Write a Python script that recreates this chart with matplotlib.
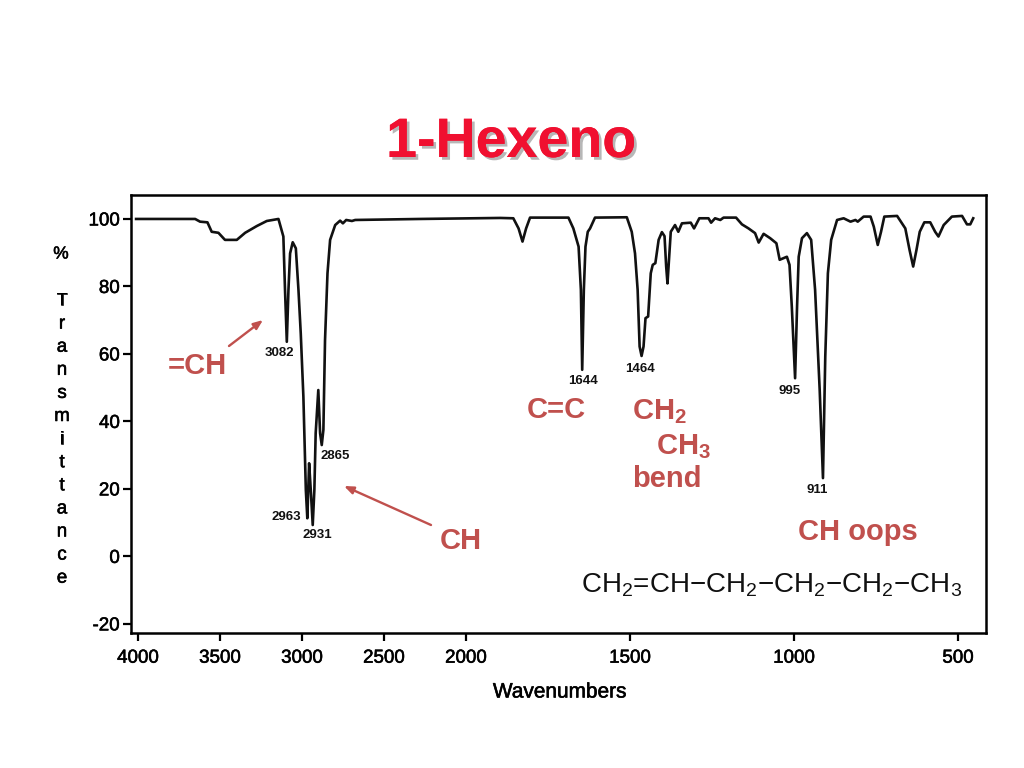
import numpy as np
import matplotlib
matplotlib.use("Agg")
import matplotlib.pyplot as plt
import matplotlib.patheffects as pe

plt.rcParams['font.family'] = ['Liberation Sans', 'DejaVu Sans']
plt.rcParams['mathtext.fontset'] = 'custom'
plt.rcParams['mathtext.rm'] = 'Liberation Sans'
plt.rcParams['mathtext.bf'] = 'Liberation Sans:bold'
plt.rcParams['mathtext.default'] = 'regular'

wavenumbers = [4012, 3652, 3622, 3577, 3551, 3510, 3470, 3398, 3347, 3276, 3215, 3144, 3114, 3104, 3093, 3083,
               3073, 3057, 3038, 3022, 3008, 2992, 2977, 2968, 2957, 2947, 2935, 2925, 2917, 2901, 2890, 2880,
               2870, 2860, 2845, 2829, 2798, 2768, 2751, 2731, 2696, 2676, 2280, 1896, 1856, 1840, 1828, 1817,
               1805, 1688, 1673, 1657, 1650, 1646, 1641, 1636, 1629, 1622, 1607, 1510, 1495, 1485, 1477, 1471,
               1465, 1459, 1453, 1445, 1437, 1431, 1423, 1413, 1403, 1395, 1390, 1386, 1382, 1376, 1363, 1353,
               1342, 1315, 1305, 1289, 1261, 1253, 1241, 1225, 1215, 1177, 1159, 1139, 1119, 1108, 1093, 1073,
               1054, 1044, 1022, 1014, 1007, 997, 991, 986, 976, 961, 948, 936, 922, 912, 905, 897,
               887, 869, 849, 828, 813, 806, 788, 767, 757, 745, 735, 725, 686, 661, 648, 637,
               627, 617, 603, 585, 570, 560, 544, 519, 488, 473, 463, 454]
transmittance = [100, 100, 99.2, 99, 96.2, 95.9, 93.8, 93.8, 95.9, 97.9, 99.4, 100, 94.8, 79, 63.6, 79,
                 89.8, 93.1, 91.3, 79, 66.1, 47.4, 19.7, 11.3, 27.6, 19.7, 9.3, 19.7, 36.5, 49.3, 36.5, 33,
                 37.5, 64.1, 83.9, 93.8, 98.2, 99.5, 98.7, 99.7, 99.4, 99.7, 100, 100.3, 100.2, 97.2, 93.3, 97.2,
                 100.4, 100.4, 97.2, 91.8, 79, 55.3, 79, 91.8, 96.2, 97.2, 100.4, 100.5, 96.2, 89.8, 79, 62.2,
                 59.4, 62.2, 70.6, 71.1, 83.9, 86.4, 86.9, 93.8, 96.1, 94.9, 85.9, 80.9, 86.9, 96.2, 98.2, 96.2,
                 98.7, 98.9, 97.2, 100.2, 100.2, 98.9, 100.2, 99.7, 100.4, 100.4, 98.4, 97.2, 95.8, 93, 95.6, 94.3,
                 92.8, 87.9, 88.8, 86.4, 74, 52.8, 74, 88.8, 94.3, 95.8, 93.8, 79, 49.3, 23.2, 59.2, 83.9,
                 93.8, 99.7, 100.2, 99.2, 99.7, 99.2, 100.7, 100.7, 97.7, 92.3, 96.2, 100.7, 100.9, 97.2, 90.8, 85.9,
                 90.8, 96.2, 99, 99, 96.2, 94.8, 98.2, 100.7, 100.9, 98.4, 98.4, 100.2]
x_ticks = [4000, 3500, 3000, 2500, 2000, 1500, 1000, 500]
y_ticks = [100, 80, 60, 40, 20, 0, -20]
peak_labels = ["3082", "2963", "2931", "2865", "1644", "1464", "995", "911"]
ylabel_letters = list("Transmittance")

W, H = 1024, 768
fig = plt.figure(figsize=(W / 100, H / 100), dpi=100, facecolor='white')
def fx(px): return px / W
def fy(py): return 1 - py / H

L, R, T, B = 131, 986, 195, 633
ax = fig.add_axes([fx(L), fy(B), (R - L) / W, (B - T) / H])

def fwd(x):
    x = np.asarray(x, dtype=float)
    return np.where(x > 2000, 2000 + (x - 2000) * 0.5, x)
def inv(p):
    p = np.asarray(p, dtype=float)
    return np.where(p > 2000, 2000 + (p - 2000) * 2.0, p)
ax.set_xscale('function', functions=(fwd, inv))
ax.plot(wavenumbers, transmittance, color='#111111', lw=1.9, solid_joinstyle='round')
ax.set_xlim(4043, 415)
ax.set_ylim(-22.7, 107.1)
ax.set_xticks(x_ticks)
ax.set_xticklabels([str(v) for v in x_ticks])
ax.set_yticks(y_ticks)
ax.set_yticklabels([str(v) for v in y_ticks])
ax.minorticks_off()
ax.tick_params(axis='both', direction='out', length=6, width=1.6, labelsize=13.5, color='black')
ax.tick_params(axis='x', pad=6)
ax.tick_params(axis='y', pad=2)
for s in ax.spines.values():
    s.set_linewidth(1.8)
stroke = [pe.withStroke(linewidth=0.4, foreground='black')]
for lab in ax.get_xticklabels() + ax.get_yticklabels():
    lab.set_path_effects(stroke)

fig.text(fx(511), fy(143), "1-Hexeno", color='#F01030', fontsize=40, fontweight='bold',
         ha='center', va='center',
         path_effects=[pe.withSimplePatchShadow(offset=(2, -2), shadow_rgbFace='#888888', alpha=0.6), pe.Normal()])
fig.text(fx(560), fy(692), "Wavenumbers", fontsize=15, ha='center', va='center', path_effects=stroke)

# vertical y-axis label, one letter per row
fig.text(fx(61), fy(254), "%", fontsize=12.5, ha='center', va='center', path_effects=stroke)
for i, ch in enumerate(ylabel_letters):
    fig.text(fx(62), fy(301 + i * 23.1), ch, fontsize=13.5, ha='center', va='center', path_effects=stroke)

# peak labels
peak_pos = [(279, 353), (286, 517), (317, 535), (335, 456), (583, 381), (640, 369), (790, 391), (817, 490)]
for s, (px, py) in zip(peak_labels, peak_pos):
    fig.text(fx(px), fy(py), s, fontsize=9.5, fontweight='bold', ha='center', va='center', color='#111111')

red = '#C0504D'
notes = [("=CH", 197, 366, 'center'), ("C=C", 556, 410, 'center'), ("CH$_2$", 659, 412, 'center'),
         ("CH$_3$", 683, 447, 'center'), ("bend", 667, 479, 'center'), ("CH", 461, 541, 'center'),
         ("CH oops", 858, 532, 'center')]
for s, px, py, ha in notes:
    fig.text(fx(px), fy(py), s, color=red, fontsize=21, fontweight='bold', ha=ha, va='center')

arrowprops = dict(arrowstyle='-|>,head_length=0.55,head_width=0.22', color=red, lw=1.7, shrinkA=0, shrinkB=0)
for tail, head in [((229, 346), (263, 320)), ((431, 525), (344, 486))]:
    ax.annotate("", xy=(fx(head[0]), fy(head[1])), xytext=(fx(tail[0]), fy(tail[1])),
                xycoords='figure fraction', textcoords='figure fraction', arrowprops=arrowprops)

fig.text(fx(772), fy(585), "CH$_2$=CH$-$CH$_2$$-$CH$_2$$-$CH$_2$$-$CH$_3$", fontsize=20,
         ha='center', va='center', color='#111111')

fig.savefig("out.png", dpi=100, facecolor='white')
